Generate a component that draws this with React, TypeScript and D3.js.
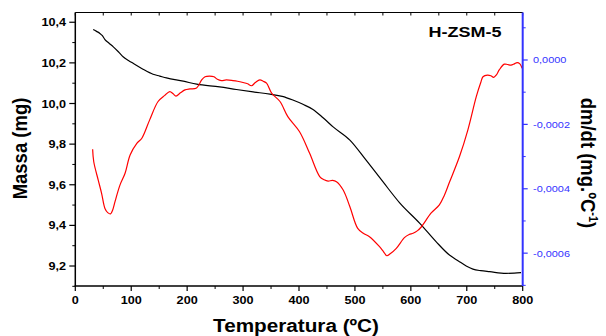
import React from "react";
import * as d3 from "d3";

// ---- data ----
const massTemp = [32, 38, 44, 48, 53, 60, 68, 77, 86, 95, 104, 121, 139, 151, 163, 193, 217, 258, 288, 318, 348, 370, 389, 407, 425, 443, 461, 491, 520, 550, 580, 616, 645, 669, 685, 699, 711, 725, 741, 770, 785, 797];
const massValues = [10.364, 10.355, 10.345, 10.335, 10.315, 10.298, 10.279, 10.255, 10.229, 10.212, 10.197, 10.169, 10.144, 10.135, 10.126, 10.11, 10.095, 10.082, 10.069, 10.057, 10.046, 10.035, 10.017, 9.996, 9.971, 9.93, 9.885, 9.82, 9.721, 9.615, 9.511, 9.41, 9.32, 9.254, 9.225, 9.2, 9.185, 9.177, 9.172, 9.164, 9.165, 9.167];

const dmdtTemp = [31, 33, 41, 47, 53, 58, 63, 67, 71, 80, 89, 98, 110, 119, 133, 148, 160, 169, 175, 180, 188, 196, 205, 216, 220, 226, 232, 240, 248, 254, 261, 270, 282, 290, 300, 308, 315, 322, 330, 336, 342, 351, 366, 380, 401, 419, 437, 445, 452, 460, 467, 479, 491, 505, 515, 526, 544, 551, 557, 563, 574, 589, 597, 604, 612, 619, 636, 651, 660, 669, 687, 702, 717, 725, 729, 737, 743, 748, 753, 758, 767, 773, 779, 785, 790, 795, 799];
const dmdtValues = [-2.77, -3.16, -3.73, -4.14, -4.61, -4.74, -4.78, -4.65, -4.4, -3.88, -3.52, -2.95, -2.59, -2.43, -1.86, -1.29, -1.1, -0.98, -1.05, -1.12, -1.02, -0.93, -0.9, -0.88, -0.8, -0.62, -0.52, -0.5, -0.52, -0.6, -0.64, -0.62, -0.64, -0.66, -0.7, -0.74, -0.8, -0.7, -0.62, -0.66, -0.72, -1.03, -1.29, -1.76, -2.23, -2.9, -3.62, -3.72, -3.76, -3.74, -3.78, -4.04, -4.56, -5.23, -5.38, -5.49, -5.8, -5.95, -6.08, -6.02, -5.85, -5.51, -5.42, -5.38, -5.3, -5.18, -4.76, -4.5, -4.2, -3.8, -3.0, -2.17, -1.14, -0.7, -0.52, -0.47, -0.49, -0.54, -0.46, -0.31, -0.13, -0.14, -0.16, -0.12, -0.08, -0.12, -0.26].map((v) => v * 1e-4);

const xTicks = [0, 100, 200, 300, 400, 500, 600, 700, 800];
const xTickLabels = ["0", "100", "200", "300", "400", "500", "600", "700", "800"];
const leftTicks = [9.2, 9.4, 9.6, 9.8, 10.0, 10.2, 10.4];
const leftTickLabels = ["9,2", "9,4", "9,6", "9,8", "10,0", "10,2", "10,4"];
const rightTicks = [0, -0.0002, -0.0004, -0.0006];
const rightTickLabels = ["0,0000", "-0,0002", "-0,0004", "-0,0006"];

const FONT = "'Liberation Sans', Arial, Helvetica, sans-serif";
const BLUE = "#3333ff";
const SX = 1.15;

export default function App() {
  const L = 75.3, R = 522.7, T = 12.5, B = 286;
  const x = d3.scaleLinear().domain([0, 800]).range([L, R]);
  const yL = d3.scaleLinear().domain([9.1016, 10.448]).range([B, T]);
  const yR = d3.scaleLinear().domain([-0.000702, 0.0001475]).range([B, T]);

  const massLine = d3
    .line<number>()
    .x((_, i) => x(massTemp[i]))
    .y((v) => yL(v))
    .curve(d3.curveMonotoneX)(massValues) as string;
  const dmdtLine = d3
    .line<number>()
    .x((_, i) => x(dmdtTemp[i]))
    .y((v) => yR(v))
    .curve(d3.curveCatmullRom.alpha(0.5))(dmdtValues) as string;

  const xMinor = d3.range(50, 800, 100);
  const leftMinor = [9.1, 9.3, 9.5, 9.7, 9.9, 10.1, 10.3];
  const rightMinor = [0.0001, -0.0001, -0.0003, -0.0005, -0.0007];
  const topTicks = d3.range(0, 801, 50);

  return (
    <svg
      width={606}
      height={336}
      style={{ position: "absolute", left: 0, top: 0, background: "#fff" }}
      fontFamily={FONT}
    >
      <rect x={0} y={0} width={606} height={336} fill="#fff" />
      {/* curves */}
      <path d={massLine} fill="none" stroke="#000" strokeWidth={1.2} />
      <path d={dmdtLine} fill="none" stroke="#ff0000" strokeWidth={1.2} />

      {/* top border with inward ticks */}
      <line x1={L} x2={R} y1={T} y2={T} stroke="#000" strokeWidth={1.2} />
      {topTicks.map((t) => (
        <line key={"tt" + t} x1={x(t)} x2={x(t)} y1={T} y2={T + 3} stroke="#000" strokeWidth={1} />
      ))}

      {/* bottom axis */}
      <line x1={L - 0.7} x2={R} y1={B} y2={B} stroke="#000" strokeWidth={1.5} />
      {xTicks.map((t, i) => (
        <g key={"xt" + t}>
          <line x1={x(t)} x2={x(t)} y1={B} y2={B + 5} stroke="#000" strokeWidth={1.2} />
          <text
            transform={`translate(${x(t)},${304}) scale(${SX},1)`}
            textAnchor="middle"
            fontSize={11}
            fontWeight="bold"
            fill="#000"
          >
            {xTickLabels[i]}
          </text>
        </g>
      ))}
      {xMinor.map((t) => (
        <line key={"xm" + t} x1={x(t)} x2={x(t)} y1={B} y2={B + 3} stroke="#000" strokeWidth={1} />
      ))}

      {/* left axis */}
      <line x1={L} x2={L} y1={T} y2={B} stroke="#000" strokeWidth={1.5} />
      {leftTicks.map((t, i) => (
        <g key={"lt" + t}>
          <line x1={L - 6} x2={L} y1={yL(t)} y2={yL(t)} stroke="#000" strokeWidth={1.2} />
          <text
            transform={`translate(${66},${yL(t) + 4}) scale(${SX},1)`}
            textAnchor="end"
            fontSize={11}
            fontWeight="bold"
            fill="#000"
          >
            {leftTickLabels[i]}
          </text>
        </g>
      ))}
      {leftMinor.map((t) => (
        <line key={"lm" + t} x1={L - 3} x2={L} y1={yL(t)} y2={yL(t)} stroke="#000" strokeWidth={1} />
      ))}

      {/* right axis (blue) */}
      <line x1={R} x2={R} y1={T} y2={B} stroke={BLUE} strokeWidth={2} />
      {rightTicks.map((t, i) => (
        <g key={"rt" + t}>
          <line x1={R} x2={R + 5} y1={yR(t)} y2={yR(t)} stroke={BLUE} strokeWidth={1.2} />
          <text
            transform={`translate(${533},${yR(t) + 3.5}) scale(${SX},1)`}
            textAnchor="start"
            fontSize={9.5}
            fill={BLUE}
          >
            {rightTickLabels[i]}
          </text>
        </g>
      ))}
      {rightMinor.map((t) => (
        <line key={"rm" + t} x1={R} x2={R + 3} y1={yR(t)} y2={yR(t)} stroke={BLUE} strokeWidth={1} />
      ))}

      {/* titles */}
      <text
        transform={`translate(${296},${331.5}) scale(1.12,1)`}
        textAnchor="middle"
        fontSize={18.5}
        fontWeight="bold"
        fill="#000"
      >
        Temperatura (ºC)
      </text>
      <text
        transform={`translate(${27},${148.5}) rotate(-90) scale(1,1.12)`}
        textAnchor="middle"
        fontSize={18.5}
        fontWeight="bold"
        fill="#000"
      >
        Massa (mg)
      </text>
      <text
        transform={`translate(${581},${163}) rotate(90) scale(1,1.12)`}
        textAnchor="middle"
        fontSize={18.5}
        fontWeight="bold"
        fill="#000"
      >
        dm/dt (mg.ºC
        <tspan fontSize={11} dy={-7}>-1</tspan>
        <tspan dy={7}>)</tspan>
      </text>
      <text
        transform={`translate(${465},${37.3}) scale(1.2,1)`}
        textAnchor="middle"
        fontSize={15}
        fontWeight="bold"
        fill="#000"
      >
        H-ZSM-5
      </text>
    </svg>
  );
}
